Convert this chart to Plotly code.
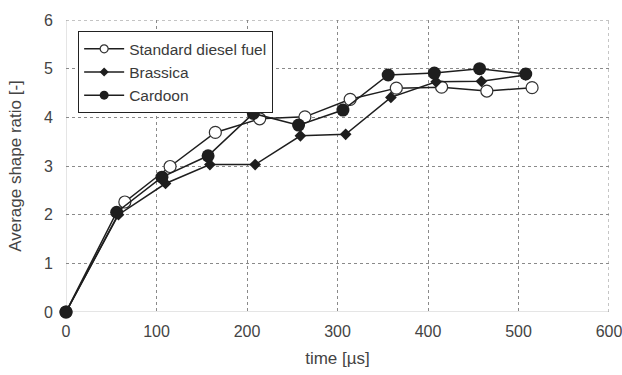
import plotly.graph_objects as go

std_x = [0, 65, 115, 165, 214, 264, 314, 365, 415, 465, 515]
std_y = [0, 2.26, 2.99, 3.69, 3.97, 4.01, 4.37, 4.60, 4.62, 4.54, 4.61]

bra_x = [0, 58, 110, 159, 209, 259, 309, 359, 409, 459, 508]
bra_y = [0, 2.00, 2.64, 3.03, 3.03, 3.62, 3.65, 4.41, 4.73, 4.74, 4.87]

car_x = [0, 56, 106, 157, 207, 257, 306, 356, 407, 457, 508]
car_y = [0, 2.05, 2.77, 3.21, 4.08, 3.84, 4.15, 4.87, 4.91, 5.00, 4.89]

names = ["Standard diesel fuel", "Brassica", "Cardoon"]

C = "#1e1e1e"
series = [
    (std_x, std_y, names[0], dict(symbol="circle", size=12, color="white",
                                  line=dict(color="#333", width=1.2)),
     dict(symbol="circle", size=8, color="white", line=dict(color="#333", width=1.2))),
    (bra_x, bra_y, names[1], dict(symbol="diamond", size=9, color=C),
     dict(symbol="diamond", size=7, color=C)),
    (car_x, car_y, names[2], dict(symbol="circle", size=13, color=C),
     dict(symbol="circle", size=9, color=C)),
]

fig = go.Figure()
for xs, ys, nm, mk, lmk in series:
    fig.add_trace(go.Scatter(x=xs, y=ys, name=nm, mode="lines+markers",
                             cliponaxis=False, showlegend=False, legendgroup=nm,
                             line=dict(color=C, width=1.5), marker=mk))
for xs, ys, nm, mk, lmk in series:
    fig.add_trace(go.Scatter(x=[None], y=[None], name=nm, mode="lines+markers",
                             showlegend=True, legendgroup=nm,
                             line=dict(color=C, width=1.5), marker=lmk))

grid = dict(showgrid=True, gridcolor="#8a8a8a", griddash="dot", gridwidth=1,
            zeroline=False, showline=False, automargin=False,
            ticks="outside", tickcolor="rgba(0,0,0,0)",
            ticklabeloverflow="allow",
            tickfont=dict(size=16, color="#444"))
fig.update_layout(
    width=622, height=375,
    margin=dict(l=66, r=13, t=20, b=63),
    paper_bgcolor="white", plot_bgcolor="white",
    font=dict(family="Liberation Sans, Arial, sans-serif", size=16, color="#444"),
    showlegend=True,
    legend=dict(x=0.022, y=0.962, xanchor="left", yanchor="top",
                bordercolor="#222", borderwidth=1.2, bgcolor="white",
                itemwidth=40, tracegroupgap=0,
                font=dict(size=15.5, color="#3a3a3a")),
    xaxis=dict(range=[0, 600], tickvals=[0, 100, 200, 300, 400, 500, 600],
               ticklen=5, **grid,
               title=dict(text="time [µs]", standoff=12, font=dict(size=17))),
    yaxis=dict(range=[0, 6], tickvals=[0, 1, 2, 3, 4, 5, 6],
               ticklen=9, **grid,
               title=dict(text="Average shape ratio [-]", standoff=17, font=dict(size=17))),
)
# light axis lines at x=0 and y=0, dotted frame lines at x=600 and y=6
fig.add_shape(type="line", xref="x", yref="y", x0=0, x1=600, y0=0, y1=0,
              line=dict(color="#ddd", width=1.5), layer="below")
fig.add_shape(type="line", xref="x", yref="y", x0=0, x1=0, y0=0, y1=6,
              line=dict(color="#ddd", width=1.5), layer="below")
fig.add_shape(type="line", xref="x", yref="y", x0=0, x1=600, y0=6, y1=6,
              line=dict(color="#8a8a8a", width=1, dash="dot"), layer="below")
fig.add_shape(type="line", xref="x", yref="y", x0=600, x1=600, y0=0, y1=6,
              line=dict(color="#8a8a8a", width=1, dash="dot"), layer="below")
fig.write_html("out.html")
